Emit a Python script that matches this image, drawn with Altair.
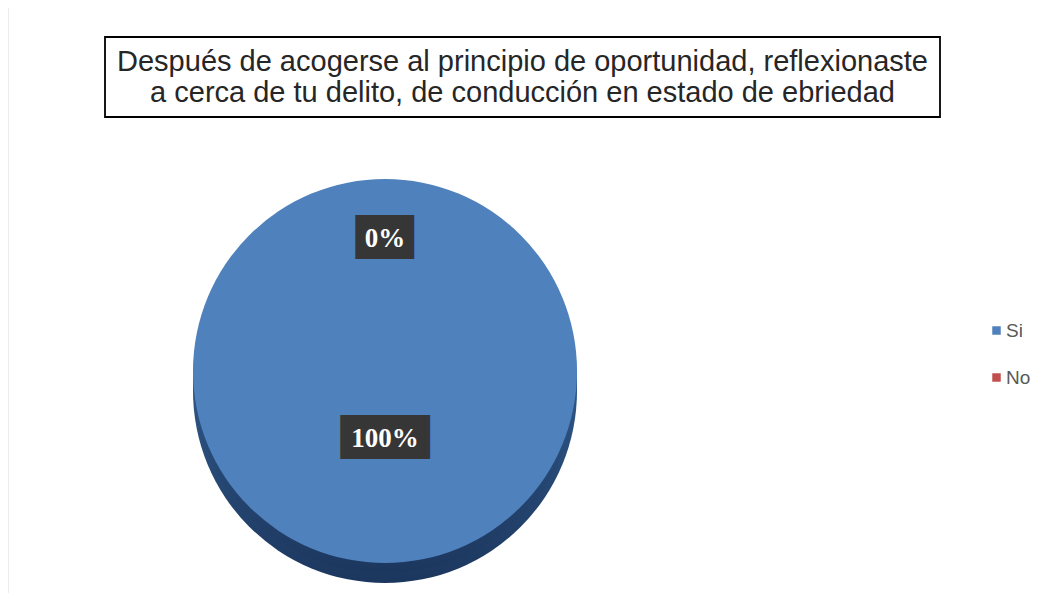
import altair as alt
import pandas as pd

# ---- data ----
categories = ["Si", "No"]
values = [100, 0]
labels = ["100%", "0%"]
colors = ["#4F81BD", "#C0504D"]
title_lines = [
    "Después de acogerse al principio de oportunidad, reflexionaste",
    "a cerca de tu delito, de conducción en estado de ebriedad",
]

df = pd.DataFrame({"cat": categories, "value": values, "label": labels})

W, H = 1032, 585
CX, CY = 377, 363
R = 192
D = 20

base = alt.Chart(df)
theta = alt.Theta("value:Q", stack=True)
order = alt.Order("value:Q", sort="descending")

side_grad = alt.LinearGradient(
    gradient="linear",
    stops=[alt.GradientStop(color="#4275b0", offset=0),
           alt.GradientStop(color="#1c375e", offset=1)],
    x1=0, x2=0, y1=0, y2=1,
)

side1 = base.mark_arc(outerRadius=R, color=side_grad).encode(
    theta=theta, order=order, x=alt.value(CX), y=alt.value(CY + D))
side2 = base.mark_arc(outerRadius=R, color=side_grad).encode(
    theta=theta, order=order, x=alt.value(CX), y=alt.value(CY + D / 2))

top = base.mark_arc(outerRadius=R).encode(
    theta=theta,
    order=order,
    x=alt.value(CX),
    y=alt.value(CY),
    color=alt.Color(
        "cat:N",
        scale=alt.Scale(domain=categories, range=colors),
        sort=categories,
        legend=alt.Legend(
            title=None, orient="none", legendX=979, legendY=313,
            symbolType="square", symbolSize=72, symbolStrokeWidth=0,
            labelFont="Liberation Sans", labelFontSize=19, labelColor="#595959",
            labelOffset=0, rowPadding=27, padding=0,
        ),
    ),
)

lab = base.transform_window(
    cum="sum(value)", sort=[alt.SortField("value", order="descending")], frame=[None, 0]
).transform_calculate(mid="datum.cum - datum.value / 2")


def label_layer(cat, rad, blocks, dx):
    sub = lab.transform_filter(alt.datum.cat == cat)
    bg = sub.mark_text(
        font="DejaVu Sans Mono", fontSize=37, color="#363636", baseline="middle",
        align="center", dx=dx,
    ).encode(theta=alt.Theta("mid:Q"), radius=alt.value(rad),
             x=alt.value(CX), y=alt.value(CY), text=alt.value(blocks))
    tx = sub.mark_text(
        font="Liberation Serif", fontSize=27, fontWeight="bold", color="white",
        baseline="middle", align="center",
    ).encode(theta=alt.Theta("mid:Q"), radius=alt.value(rad),
             x=alt.value(CX), y=alt.value(CY), text="label:N")
    return [bg, tx]


lab_no = label_layer("No", 132, "██▋", 4)
lab_si = label_layer("Si", 68, "████", 0)

# decorations
border_l = alt.Chart().mark_rule(color="#d9d9d9", strokeWidth=1).encode(
    x=alt.value(0), y=alt.value(-1), y2=alt.value(H))
border_t = alt.Chart().mark_rule(color="#d9d9d9", strokeWidth=1).encode(
    x=alt.value(0), x2=alt.value(W), y=alt.value(-1))
title_box = alt.Chart().mark_rect(fill="white", stroke="black", strokeWidth=1.8).encode(
    x=alt.value(97), x2=alt.value(932), y=alt.value(29), y2=alt.value(109))
title_txt = alt.Chart().mark_text(
    font="Liberation Sans", fontSize=29, color="#262626", align="center",
    baseline="middle", lineHeight=31,
).encode(x=alt.value(514.5), y=alt.value(54), text=alt.value(title_lines))

chart = alt.layer(
    border_l, border_t, side1, side2, top, *lab_no, *lab_si, title_box, title_txt
).properties(
    width=W, height=H, autosize=alt.AutoSizeParams(type="none"), padding=0,
    background="white",
).configure_view(stroke=None)

chart.save("out.html", embed_options={"renderer": "svg", "actions": False})
